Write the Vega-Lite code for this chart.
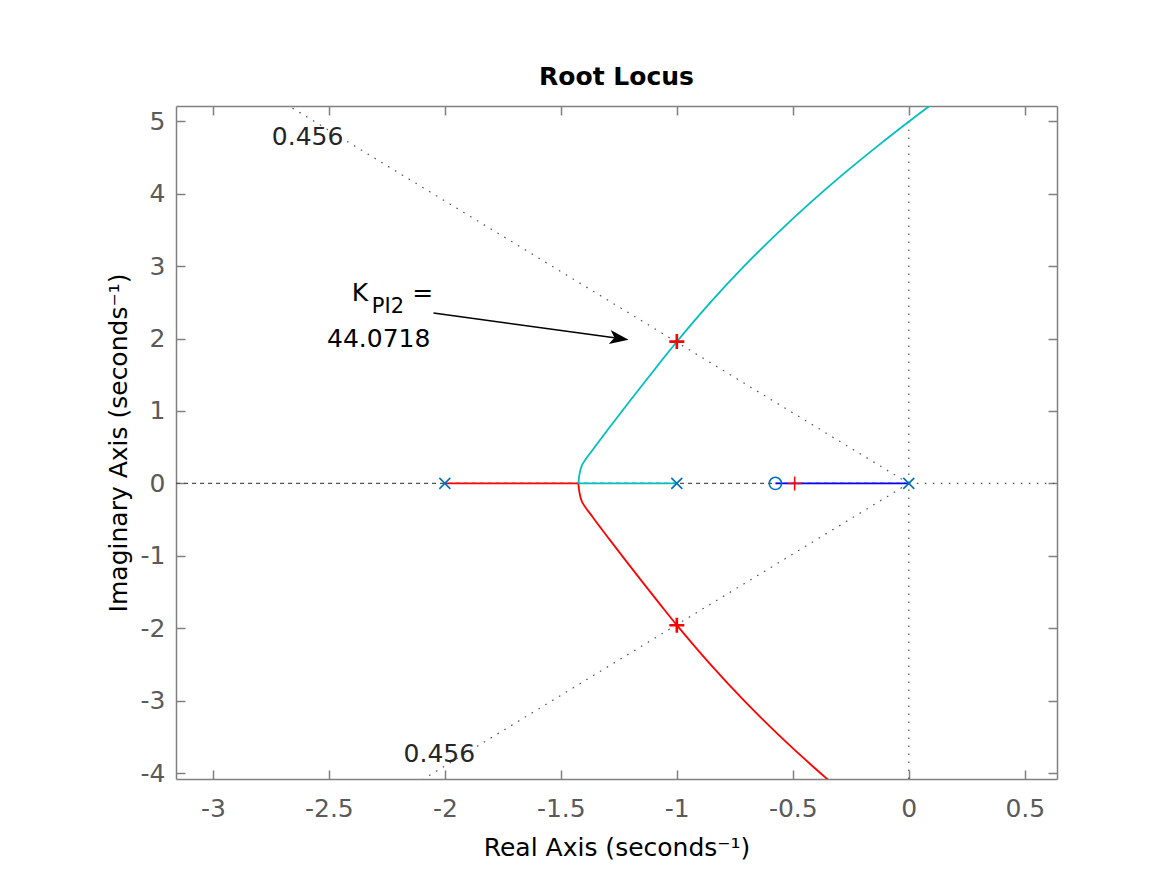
{
  "$schema": "https://vega.github.io/schema/vega-lite/v6.json",
  "width": 881,
  "height": 673,
  "autosize": {"type": "none"},
  "padding": {"left": 176, "top": 106, "right": 110, "bottom": 96},
  "background": "white",
  "config": {"view": {"stroke": null}, "font": "DejaVu Sans"},
  "title": {"text": "Root Locus", "fontSize": 25, "fontWeight": "bold", "font": "DejaVu Sans", "color": "black", "baseline": "alphabetic", "offset": -5, "anchor": "middle"},
  "datasets": {
    "grid": [
      {"x": 0, "y": 0, "x2": -2.672, "y2": 5.21, "style": "dot"},
      {"x": 0, "y": 0, "x2": -2.092, "y2": -4.08, "style": "dot"},
      {"x": 0, "y": -4.08, "x2": 0, "y2": 5.0, "style": "dot"},
      {"x": 0, "y": 0, "x2": 0.639, "y2": 0, "style": "dot"},
      {"x": -3.159, "y": 0, "x2": 0, "y2": 0, "style": "dash"}
    ],
    "locus": [
      {"branch": "redAxis", "i": 0, "x": -2.0, "y": 0},
      {"branch": "redAxis", "i": 1, "x": -1.424, "y": 0},
      {"branch": "red", "i": 0, "x": -1.424, "y": 0},
      {"branch": "red", "i": 1, "x": -1.421, "y": -0.10},
      {"branch": "red", "i": 2, "x": -1.409, "y": -0.25},
      {"branch": "red", "i": 3, "x": -1.359, "y": -0.48},
      {"branch": "red", "i": 4, "x": -1.287, "y": -0.786},
      {"branch": "red", "i": 5, "x": -1.215, "y": -1.086},
      {"branch": "red", "i": 6, "x": -1.1435, "y": -1.380},
      {"branch": "red", "i": 7, "x": -1.072, "y": -1.670},
      {"branch": "red", "i": 8, "x": -1.0, "y": -1.956},
      {"branch": "red", "i": 9, "x": -0.856, "y": -2.495},
      {"branch": "red", "i": 10, "x": -0.712, "y": -2.992},
      {"branch": "red", "i": 11, "x": -0.568, "y": -3.449},
      {"branch": "red", "i": 12, "x": -0.424, "y": -3.876},
      {"branch": "red", "i": 13, "x": -0.280, "y": -4.276},
      {"branch": "red", "i": 14, "x": -0.136, "y": -4.653},
      {"branch": "cyanAxis", "i": 0, "x": -1.0, "y": 0},
      {"branch": "cyanAxis", "i": 1, "x": -1.424, "y": 0},
      {"branch": "cyan", "i": 0, "x": -1.424, "y": 0},
      {"branch": "cyan", "i": 1, "x": -1.421, "y": 0.10},
      {"branch": "cyan", "i": 2, "x": -1.409, "y": 0.25},
      {"branch": "cyan", "i": 3, "x": -1.359, "y": 0.48},
      {"branch": "cyan", "i": 4, "x": -1.287, "y": 0.786},
      {"branch": "cyan", "i": 5, "x": -1.215, "y": 1.086},
      {"branch": "cyan", "i": 6, "x": -1.1435, "y": 1.380},
      {"branch": "cyan", "i": 7, "x": -1.072, "y": 1.670},
      {"branch": "cyan", "i": 8, "x": -1.0, "y": 1.956},
      {"branch": "cyan", "i": 9, "x": -0.856, "y": 2.495},
      {"branch": "cyan", "i": 10, "x": -0.712, "y": 2.992},
      {"branch": "cyan", "i": 11, "x": -0.568, "y": 3.449},
      {"branch": "cyan", "i": 12, "x": -0.424, "y": 3.876},
      {"branch": "cyan", "i": 13, "x": -0.280, "y": 4.276},
      {"branch": "cyan", "i": 14, "x": -0.136, "y": 4.653},
      {"branch": "cyan", "i": 15, "x": 0.008, "y": 5.013},
      {"branch": "cyan", "i": 16, "x": 0.085, "y": 5.199},
      {"branch": "cyan", "i": 17, "x": 0.125, "y": 5.293},
      {"branch": "blue", "i": 0, "x": -0.575, "y": 0},
      {"branch": "blue", "i": 1, "x": 0, "y": 0}
    ],
    "poles": [{"x": -2, "y": 0}, {"x": -1, "y": 0}, {"x": 0, "y": 0}],
    "zeros": [{"x": -0.575, "y": 0}],
    "gainBold": [{"x": -1, "y": 1.958}, {"x": -1, "y": -1.958}],
    "gainThin": [{"x": -0.492, "y": 0}],
    "arrowLine": [{"x": -2.049, "y": 2.352, "x2": -1.269, "y2": 2.011}],
    "arrowHead": [{"x": -1.208, "y": 1.985}],
    "bigText": [
      {"x": -2.401, "y": 2.518, "text": "K"},
      {"x": -2.141, "y": 2.518, "text": "="},
      {"x": -2.508, "y": 1.878, "text": "44.0718"}
    ],
    "subText": [{"x": -2.315, "y": 2.348, "text": "PI2"}],
    "zetaText": [
      {"x": -2.746, "y": 4.669, "text": "0.456"},
      {"x": -2.178, "y": -3.849, "text": "0.456"}
    ]
  },
  "encoding": {
    "x": {"field": "x", "type": "quantitative", "scale": {"domain": [-3.159, 0.639], "nice": false, "zero": false}, "axis": null},
    "y": {"field": "y", "type": "quantitative", "scale": {"domain": [-4.08, 5.21], "nice": false, "zero": false}, "axis": null}
  },
  "layer": [
    {
      "data": {"name": "grid"},
      "mark": {"type": "rule", "color": "#555555", "strokeWidth": 1.2, "clip": true},
      "encoding": {
        "x": {"field": "x", "type": "quantitative", "scale": {"domain": [-3.159, 0.639], "nice": false, "zero": false},
          "axis": {"orient": "bottom", "values": [-3, -2.5, -2, -1.5, -1, -0.5, 0, 0.5], "labelExpr": "'' + datum.value", "grid": false,
            "tickSize": -9, "tickColor": "#808080", "tickWidth": 1.5, "domainColor": "#808080", "domainWidth": 1.5,
            "labelFont": "DejaVu Sans", "labelFontSize": 25, "labelColor": "#5a5a5a", "labelPadding": 46, "labelBaseline": "alphabetic", "labelFlush": false, "labelOverlap": false,
            "title": "Real Axis (seconds⁻¹)", "titleFont": "DejaVu Sans", "titleFontSize": 25, "titleFontWeight": "normal", "titleColor": "black", "titleBaseline": "alphabetic", "titleY": 76, "titleAnchor": "middle"}},
        "y": {"field": "y", "type": "quantitative", "scale": {"domain": [-4.08, 5.21], "nice": false, "zero": false},
          "axis": {"orient": "left", "values": [-4, -3, -2, -1, 0, 1, 2, 3, 4, 5], "labelExpr": "'' + datum.value", "grid": false,
            "tickSize": -9, "tickColor": "#808080", "tickWidth": 1.5, "domainColor": "#808080", "domainWidth": 1.5,
            "labelFont": "DejaVu Sans", "labelFontSize": 25, "labelColor": "#5a5a5a", "labelPadding": 20, "labelBaseline": "middle", "labelAlign": "right", "labelFlush": false, "labelOverlap": false,
            "title": "Imaginary Axis (seconds⁻¹)", "titleFont": "DejaVu Sans", "titleFontSize": 25, "titleFontWeight": "normal", "titleColor": "black", "titleBaseline": "alphabetic", "titleX": -50, "titleAnchor": "middle"}},
        "x2": {"field": "x2"},
        "y2": {"field": "y2"},
        "strokeDash": {"field": "style", "type": "nominal", "scale": {"domain": ["dot", "dash"], "range": [[1.6, 6.4], [4, 4]]}, "legend": null}
      }
    },
    {
      "data": {"name": "locus"},
      "mark": {"type": "line", "strokeWidth": 1.8, "clip": true, "interpolate": "catmull-rom"},
      "encoding": {
        "x": {"field": "x", "type": "quantitative", "scale": {"domain": [-3.159, 0.639], "nice": false, "zero": false},
          "axis": {"orient": "top", "values": [-3, -2.5, -2, -1.5, -1, -0.5, 0, 0.5], "labels": false, "title": null, "grid": false,
            "tickSize": -9, "tickColor": "#808080", "tickWidth": 1.5, "domainColor": "#808080", "domainWidth": 1.5}},
        "y": {"field": "y", "type": "quantitative", "scale": {"domain": [-4.08, 5.21], "nice": false, "zero": false},
          "axis": {"orient": "right", "values": [-4, -3, -2, -1, 0, 1, 2, 3, 4, 5], "labels": false, "title": null, "grid": false,
            "tickSize": -9, "tickColor": "#808080", "tickWidth": 1.5, "domainColor": "#808080", "domainWidth": 1.5}},
        "color": {"field": "branch", "type": "nominal", "scale": {"domain": ["redAxis", "red", "cyanAxis", "cyan", "blue"], "range": ["#FF0000", "#FF0000", "#00BFBF", "#00BFBF", "#0000FF"]}, "legend": null},
        "order": {"field": "i", "type": "quantitative"}
      }
    },
    {
      "data": {"name": "poles"},
      "mark": {"type": "point", "shape": "M-1,-1L1,1M-1,1L1,-1", "size": 121, "filled": false, "stroke": "#0072BD", "strokeWidth": 1.6, "opacity": 1}
    },
    {
      "data": {"name": "zeros"},
      "mark": {"type": "point", "shape": "circle", "size": 150, "filled": false, "stroke": "#0072BD", "strokeWidth": 1.6, "opacity": 1}
    },
    {
      "data": {"name": "gainBold"},
      "mark": {"type": "point", "shape": "M-1,0L1,0M0,-1L0,1", "size": 225, "filled": false, "stroke": "#FF0000", "strokeWidth": 2.6, "opacity": 1}
    },
    {
      "data": {"name": "gainThin"},
      "mark": {"type": "point", "shape": "M-1,0L1,0M0,-1L0,1", "size": 196, "filled": false, "stroke": "#FF0000", "strokeWidth": 1.5, "opacity": 1}
    },
    {
      "data": {"name": "arrowLine"},
      "mark": {"type": "rule", "color": "black", "strokeWidth": 1.6},
      "encoding": {"x2": {"field": "x2"}, "y2": {"field": "y2"}}
    },
    {
      "data": {"name": "arrowHead"},
      "mark": {"type": "point", "shape": "M0,0L-2,-0.75L-1.5,0L-2,0.75Z", "size": 361, "filled": true, "color": "black", "angle": 7.8, "opacity": 1, "strokeWidth": 0}
    },
    {
      "data": {"name": "bigText"},
      "mark": {"type": "text", "align": "left", "baseline": "alphabetic", "font": "DejaVu Sans", "fontSize": 25, "color": "black"},
      "encoding": {"text": {"field": "text"}}
    },
    {
      "data": {"name": "subText"},
      "mark": {"type": "text", "align": "left", "baseline": "alphabetic", "font": "DejaVu Sans", "fontSize": 21, "color": "black"},
      "encoding": {"text": {"field": "text"}}
    },
    {
      "data": {"name": "zetaText"},
      "mark": {"type": "text", "align": "left", "baseline": "alphabetic", "font": "DejaVu Sans", "fontSize": 25, "color": "#262626"},
      "encoding": {"text": {"field": "text"}}
    }
  ],
  "resolve": {"axis": {"x": "independent", "y": "independent"}}
}
